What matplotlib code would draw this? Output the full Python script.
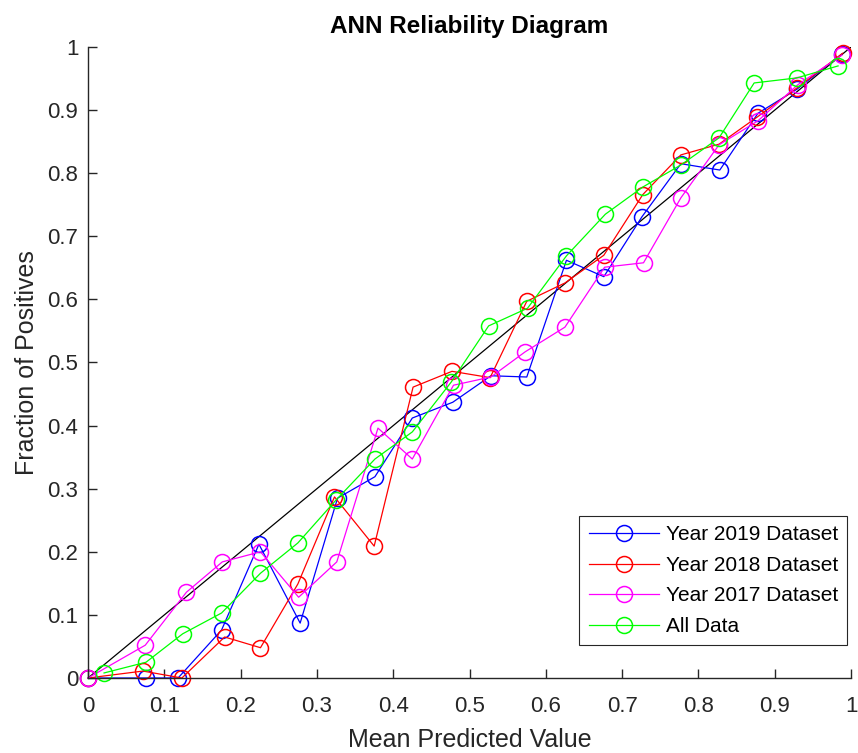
import matplotlib.pyplot as plt
from matplotlib.ticker import FuncFormatter

# mean predicted value / fraction of positives per bin
x_2019 = [0.0, 0.076, 0.118, 0.175, 0.224, 0.278, 0.327, 0.376, 0.425, 0.478,
          0.528, 0.575, 0.627, 0.676, 0.726, 0.777, 0.828, 0.878, 0.929, 0.988]
y_2019 = [0.0, 0.0, 0.0, 0.076, 0.212, 0.087, 0.285, 0.319, 0.412, 0.437,
          0.479, 0.477, 0.662, 0.636, 0.731, 0.815, 0.805, 0.895, 0.933, 0.989]

x_2018 = [0.0, 0.072, 0.123, 0.179, 0.226, 0.275, 0.323, 0.375, 0.426, 0.477,
          0.527, 0.575, 0.625, 0.676, 0.727, 0.777, 0.827, 0.877, 0.929, 0.989]
y_2018 = [0.0, 0.011, 0.0, 0.065, 0.048, 0.149, 0.287, 0.209, 0.461, 0.486,
          0.476, 0.597, 0.626, 0.670, 0.766, 0.829, 0.846, 0.889, 0.935, 0.990]

x_2017 = [0.0, 0.075, 0.129, 0.176, 0.226, 0.276, 0.326, 0.380, 0.425, 0.479,
          0.528, 0.573, 0.625, 0.677, 0.728, 0.777, 0.827, 0.878, 0.930, 0.988]
y_2017 = [0.0, 0.052, 0.136, 0.184, 0.200, 0.128, 0.184, 0.396, 0.347, 0.464,
          0.477, 0.517, 0.556, 0.651, 0.658, 0.761, 0.845, 0.883, 0.940, 0.987]

x_all = [0.021, 0.076, 0.124, 0.175, 0.226, 0.275, 0.325, 0.376, 0.425, 0.476,
         0.525, 0.576, 0.627, 0.678, 0.727, 0.777, 0.827, 0.873, 0.929, 0.983]
y_all = [0.008, 0.025, 0.070, 0.103, 0.166, 0.214, 0.282, 0.347, 0.390, 0.469,
         0.558, 0.586, 0.669, 0.735, 0.778, 0.813, 0.856, 0.943, 0.951, 0.970]

labels = ['Year 2019 Dataset', 'Year 2018 Dataset', 'Year 2017 Dataset', 'All Data']

plt.rcParams['font.family'] = ['Liberation Sans', 'DejaVu Sans']
axcol = '#262626'

fig = plt.figure(figsize=(8.58, 7.53), dpi=100)
ax = fig.add_axes([0.1026, 0.0996, 0.8893, 0.838])

ax.plot([0, 1], [0, 1], color='k', lw=0.9, zorder=1)
series = [(x_2019, y_2019, '#0000ff'), (x_2018, y_2018, '#ff0000'),
          (x_2017, y_2017, '#ff00ff'), (x_all, y_all, '#00ff00')]
for (xs, ys, c), lab in zip(series, labels):
    ax.plot(xs, ys, color=c, lw=0.9, marker='o', ms=11.5, mfc='none',
            mec=c, mew=1.1, label=lab, clip_on=False, zorder=2)

ax.set_xlim(0, 1)
ax.set_ylim(0, 1)
ticks = [i / 10 for i in range(11)]
ax.set_xticks(ticks)
ax.set_yticks(ticks)
fmt = FuncFormatter(lambda v, p: ('%g' % round(v, 2)))
ax.xaxis.set_major_formatter(fmt)
ax.yaxis.set_major_formatter(fmt)
ax.tick_params(direction='in', length=6.5, width=1.0, colors=axcol,
               labelsize=16)
ax.tick_params(axis='x', pad=13)
ax.tick_params(axis='y', pad=7)
for s in ['top', 'right']:
    ax.spines[s].set_visible(False)
for s in ['left', 'bottom']:
    ax.spines[s].set_color(axcol)
    ax.spines[s].set_linewidth(1.0)

ax.set_xlabel('Mean Predicted Value', fontsize=18, color=axcol, labelpad=8)
ax.set_ylabel('Fraction of Positives', fontsize=18, color=axcol, labelpad=6)
ax.set_title('ANN Reliability Diagram', fontsize=17.5, fontweight='bold', pad=10)

leg = ax.legend(loc='lower right', bbox_to_anchor=(0.995, 0.052), fontsize=15,
                fancybox=False, framealpha=1, edgecolor=axcol,
                handlelength=3.4, labelspacing=0.55, borderpad=0.45,
                handletextpad=0.3, borderaxespad=0)
leg.get_frame().set_linewidth(0.8)

plt.savefig('out.png', dpi=100)
